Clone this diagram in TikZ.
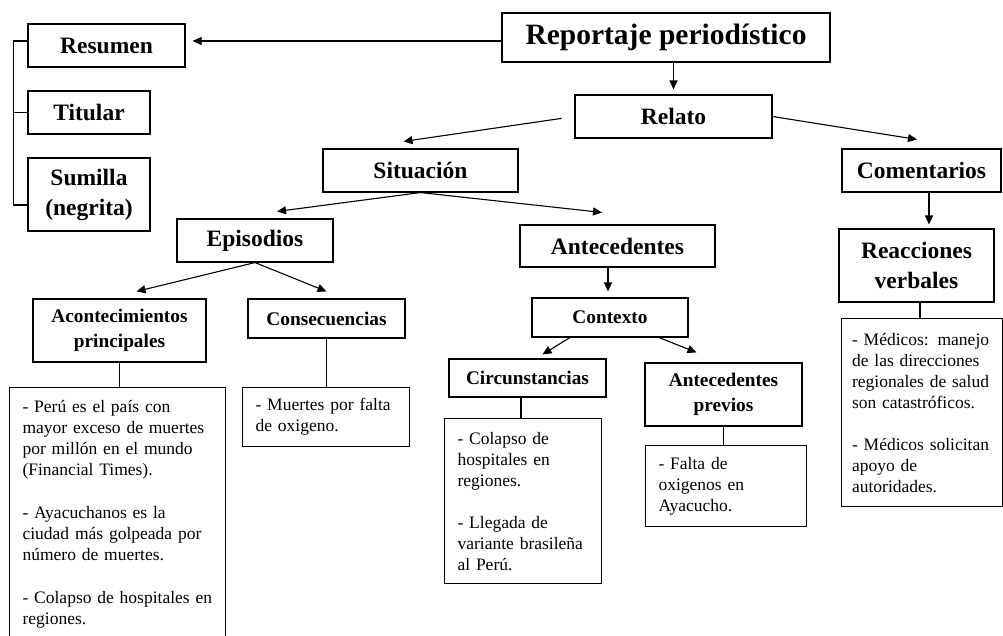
\documentclass[tikz,border=0pt]{standalone}
\usepackage{fontspec}
\setmainfont{Liberation Serif}
\usetikzlibrary{positioning, arrows.meta}

\begin{document}
\begin{tikzpicture}[x=1pt, y=-1pt, line width=1.1pt,
		hdr/.style={draw, align=center, inner sep=0pt, font=\bfseries\fontsize{23.5}{30}\selectfont},
		sub/.style={hdr, font=\bfseries\fontsize{19.3}{24.5}\selectfont},
		txt/.style={draw, anchor=north west, align=left, inner xsep=13pt, inner ysep=0pt, font=\fontsize{17.5}{21}\selectfont},
		arr/.style={-{Triangle[length=9pt, width=8pt]}}]
		\clip (0,0) rectangle (1003,635);
		% cabecera
		\node[hdr, font=\bfseries\fontsize{29.5}{34}\selectfont, minimum width=328, minimum height=49] (rep) at (666,37.5) {Reportaje periodístico};
		\node[hdr, minimum width=157, minimum height=43] (resumen) at (106.5,45.5) {Resumen};
		\node[hdr, minimum width=122, minimum height=43] (titular) at (89,112.5) {Titular};
		\node[hdr, minimum width=122, minimum height=73] (sumilla) at (89,194.5) {Sumilla\\(negrita)};
		\node[hdr, minimum width=197, minimum height=43] (relato) at (673.5,116.5) {Relato};
		\node[hdr, minimum width=195, minimum height=43] (situacion) at (420.5,170.5) {Situación};
		\node[hdr, minimum width=159, minimum height=43] (comentarios) at (921.5,170.5) {Comentarios};
		\node[hdr, minimum width=156, minimum height=43] (episodios) at (255,240.5) {Episodios};
		\node[hdr, minimum width=195, minimum height=42] (antecedentes) at (617.5,246) {Antecedentes};
		\node[hdr, minimum width=155, minimum height=73] (reacciones) at (916.5,265.5) {Reacciones\\verbales};
		% segundo nivel
		\node[sub, minimum width=173, minimum height=63] (acont) at (119.5,330.5) {Acontecimientos\\principales};
		\node[sub, minimum width=157, minimum height=39] (consec) at (326.5,318.5) {Consecuencias};
		\node[sub, minimum width=156, minimum height=39] (contexto) at (610,317.5) {Contexto};
		\node[sub, minimum width=157, minimum height=38] (circ) at (527.5,378) {Circunstancias};
		\node[sub, minimum width=157, minimum height=63] (previos) at (723.5,394.5) {Antecedentes\\previos};
		% cuadros de texto
		\node[txt, text width=190, inner ysep=13pt, text depth=300pt] (tacont) at (9,387) {- Perú es el país con\\mayor exceso de muertes\\por millón en el mundo\\(Financial Times).\\[22pt]- Ayacuchanos es la\\ciudad más golpeada por\\número de muertes.\\[22pt]- Colapso de hospitales en\\regiones.};
		\node[txt, text width=141, minimum height=59] (tconsec) at (242,387) {- Muertes por falta\\de oxigeno.};
		\node[txt, text width=131, minimum height=165] (tcirc) at (444,418) {- Colapso de\\hospitales en\\regiones.\\[21pt]- Llegada de\\variante brasileña\\al Perú.};
		\node[txt, text width=135, minimum height=81] (tprevios) at (645,445) {- Falta de\\oxigenos en\\Ayacucho.};
		\node[txt, text width=140, inner xsep=10.5pt, minimum height=188] (treac) at (841,318) {- Médicos: manejo\\de las direcciones\\regionales de salud\\son catastróficos.\\[21pt]- Médicos solicitan\\apoyo de\\autoridades.};
		% llave
		\draw ([yshift=4.5pt]resumen.west) -- ++(-14,0) |- ([yshift=-10.5pt]sumilla.west);
		\draw (titular.west) -- ++(-14,0);
		% flechas
		\draw[arr, shorten >=7pt] ([yshift=-3.5pt]rep.west) -- ([yshift=-3.5pt]rep.west -| resumen.east);
		\draw[arr] (rep.south -| relato.north) -- ([yshift=5pt]relato.north);
		\draw[arr, shorten <=13pt] (relato.west) -- ([xshift=-17pt, yshift=7pt]situacion.north);
		\draw[arr] (relato.east) -- ([xshift=-4.5pt, yshift=9pt]comentarios.north);
		\draw[arr] ([xshift=7.5pt]comentarios.south) -- ([xshift=7.5pt, yshift=4pt]comentarios.south |- reacciones.north);
		\draw[arr] (situacion.south) -- ([xshift=22pt, yshift=7pt]episodios.north);
		\draw[arr] (situacion.south) -- ([xshift=-15.5pt, yshift=12pt]antecedentes.north);
		\draw[arr] (episodios.south) -- ([xshift=17pt, yshift=7pt]acont.north);
		\draw[arr] (episodios.south) -- ([yshift=7pt]consec.north);
		\draw[arr] ([xshift=-2pt]contexto.north |- antecedentes.south) -- ([xshift=-2pt, yshift=6pt]contexto.north);
		\draw[arr] ([xshift=-40pt]contexto.south) -- ([xshift=15pt, yshift=4pt]circ.north);
		\draw[arr] ([xshift=49pt]contexto.south) -- ([xshift=-27pt, yshift=10pt]previos.north);
		% lineas
		\draw (acont.south) -- (acont.south |- tacont.north);
		\draw (consec.south) -- (consec.south |- tconsec.north);
		\draw ([xshift=-6.5pt]circ.south) -- ([xshift=-6.5pt]circ.south |- tcirc.north);
		\draw (previos.south) -- (previos.south |- tprevios.north);
		\draw ([xshift=3.5pt]reacciones.south) -- ([xshift=3.5pt]reacciones.south |- treac.north);
	\end{tikzpicture}
\end{document}
